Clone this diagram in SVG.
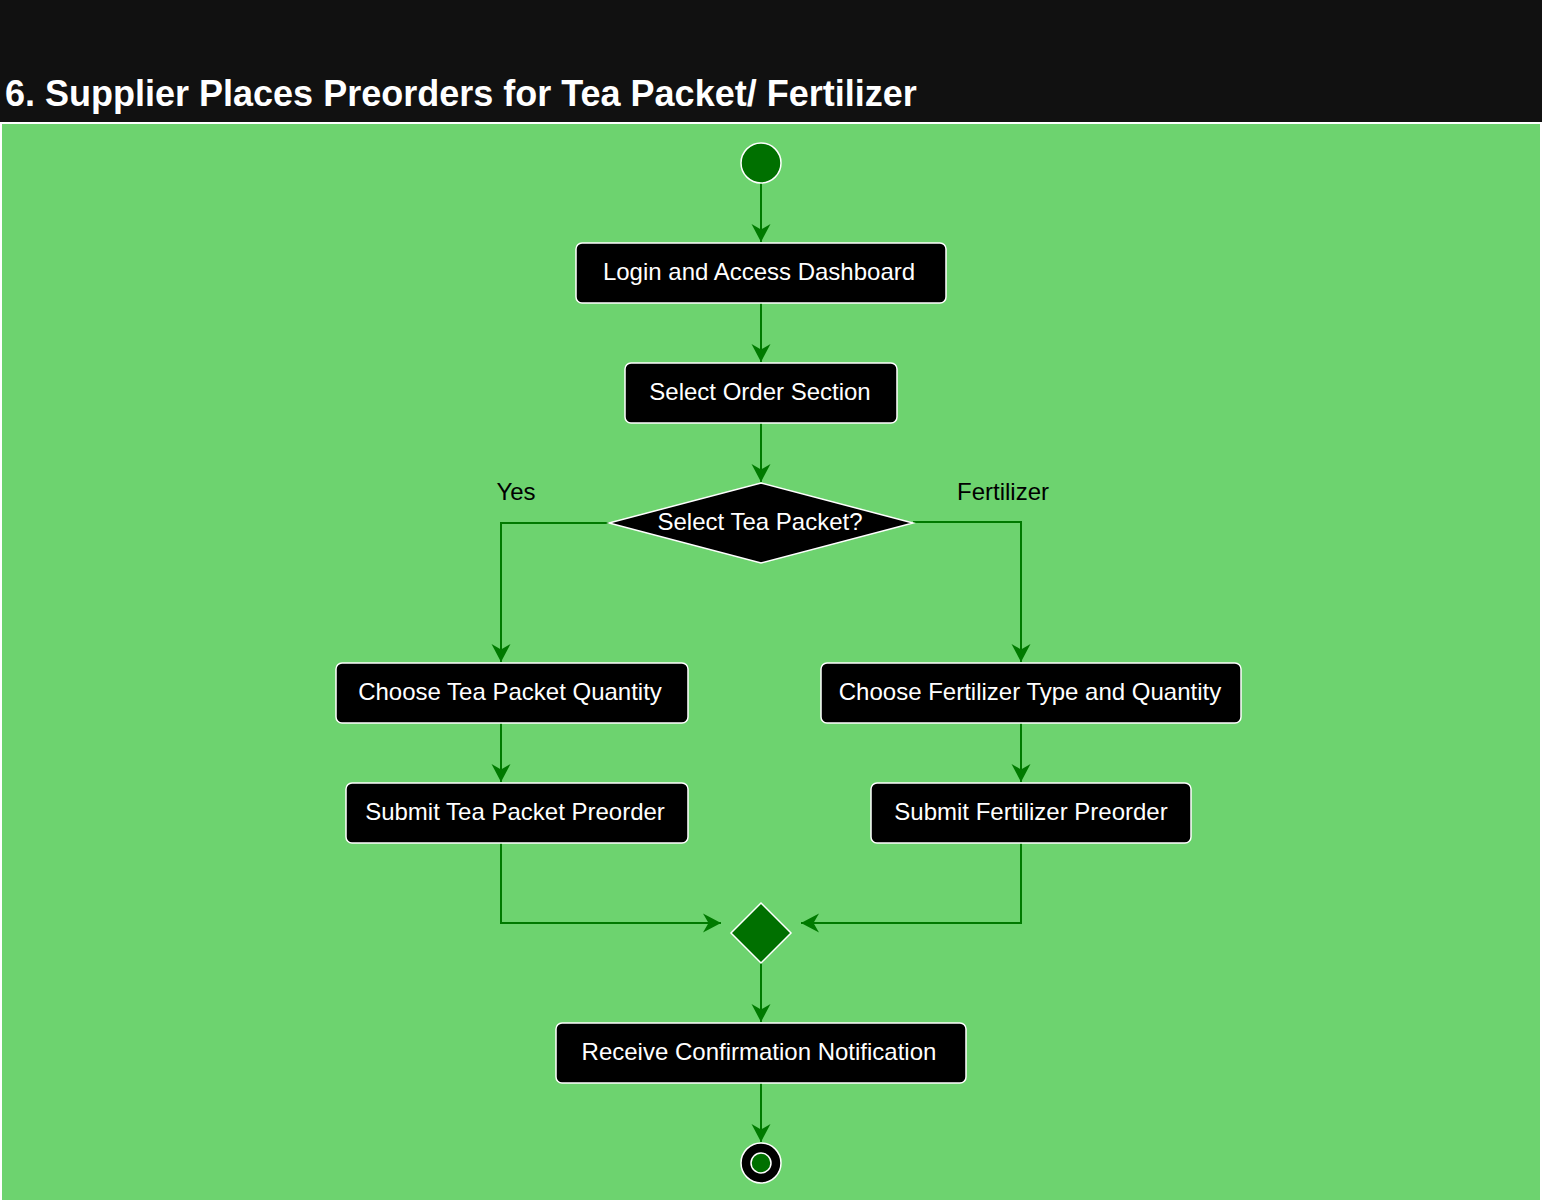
<svg xmlns="http://www.w3.org/2000/svg" width="1542" height="1204" viewBox="0 0 1542 1204">
<style>
.node rect, .node polygon { fill:#000; stroke:#fff; stroke-width:1.5; }
.node text { font-family:"Liberation Sans", Arial, sans-serif; font-size:24px; fill:#fff; text-anchor:middle; }
.lbl { font-family:"Liberation Sans", Arial, sans-serif; font-size:24px; fill:#000; text-anchor:middle; }
.edge { fill:none; stroke:#007a00; stroke-width:2; marker-end:url(#arr); }
</style>
<defs>
<marker id="arr" markerUnits="userSpaceOnUse" markerWidth="24" markerHeight="24" viewBox="-20 -12 24 24" refX="0" refY="0" orient="auto">
<path d="M0,0 L-18,-9.5 L-12.5,0 L-18,9.5 Z" fill="#007a00"/>
</marker>
</defs>
<rect x="0" y="0" width="1542" height="1204" fill="#fff"/>
<rect x="0" y="0" width="1542" height="122" fill="#111"/>
<rect x="2" y="124" width="1538" height="1076" fill="#6dd36f"/>
<text x="5" y="106" font-family="Liberation Sans, Arial, sans-serif" font-size="36" font-weight="bold" fill="#fff">6. Supplier Places Preorders for Tea Packet/ Fertilizer</text>

<g id="connectors">
<path class="edge" d="M761,183 L761,242"/>
<path class="edge" d="M761,303 L761,362"/>
<path class="edge" d="M761,423 L761,482"/>
<path class="edge" d="M609,523 L501,523 L501,662"/>
<path class="edge" d="M913,522 L1021,522 L1021,662"/>
<path class="edge" d="M501,723 L501,782"/>
<path class="edge" d="M1021,723 L1021,782"/>
<path class="edge" d="M501,843 L501,923 L721,923"/>
<path class="edge" d="M1021,843 L1021,923 L801,923"/>
<path class="edge" d="M761,962 L761,1022"/>
<path class="edge" d="M761,1083 L761,1142"/>
<text class="lbl" x="516" y="500">Yes</text>
<text class="lbl" x="1003" y="500">Fertilizer</text>
</g>

<g id="start"><circle cx="761" cy="163" r="20" fill="#007000" stroke="#fff" stroke-width="1.5"/></g>
<g id="login" class="node"><rect x="576" y="243" width="370" height="60" rx="6"/><text x="759" y="280">Login and Access Dashboard</text></g>
<g id="select-order" class="node"><rect x="625" y="363" width="272" height="60" rx="6"/><text x="760" y="400">Select Order Section</text></g>
<g id="decision" class="node"><polygon points="761,483 913,523 761,563 609,523"/><text x="760" y="530">Select Tea Packet?</text></g>
<g id="choose-tea" class="node"><rect x="336" y="663" width="352" height="60" rx="6"/><text x="510" y="700">Choose Tea Packet Quantity</text></g>
<g id="choose-fert" class="node"><rect x="821" y="663" width="420" height="60" rx="6"/><text x="1030" y="700">Choose Fertilizer Type and Quantity</text></g>
<g id="submit-tea" class="node"><rect x="346" y="783" width="342" height="60" rx="6"/><text x="515" y="820">Submit Tea Packet Preorder</text></g>
<g id="submit-fert" class="node"><rect x="871" y="783" width="320" height="60" rx="6"/><text x="1031" y="820">Submit Fertilizer Preorder</text></g>
<g id="merge"><polygon points="761,903 791,933 761,963 731,933" fill="#007000" stroke="#fff" stroke-width="1.5"/></g>
<g id="confirm" class="node"><rect x="556" y="1023" width="410" height="60" rx="6"/><text x="759" y="1060">Receive Confirmation Notification</text></g>
<g id="end"><circle cx="761" cy="1163" r="20" fill="#000" stroke="#fff" stroke-width="1.5"/><circle cx="761" cy="1163" r="10" fill="#007000" stroke="#fff" stroke-width="1.5"/></g>
</svg>
